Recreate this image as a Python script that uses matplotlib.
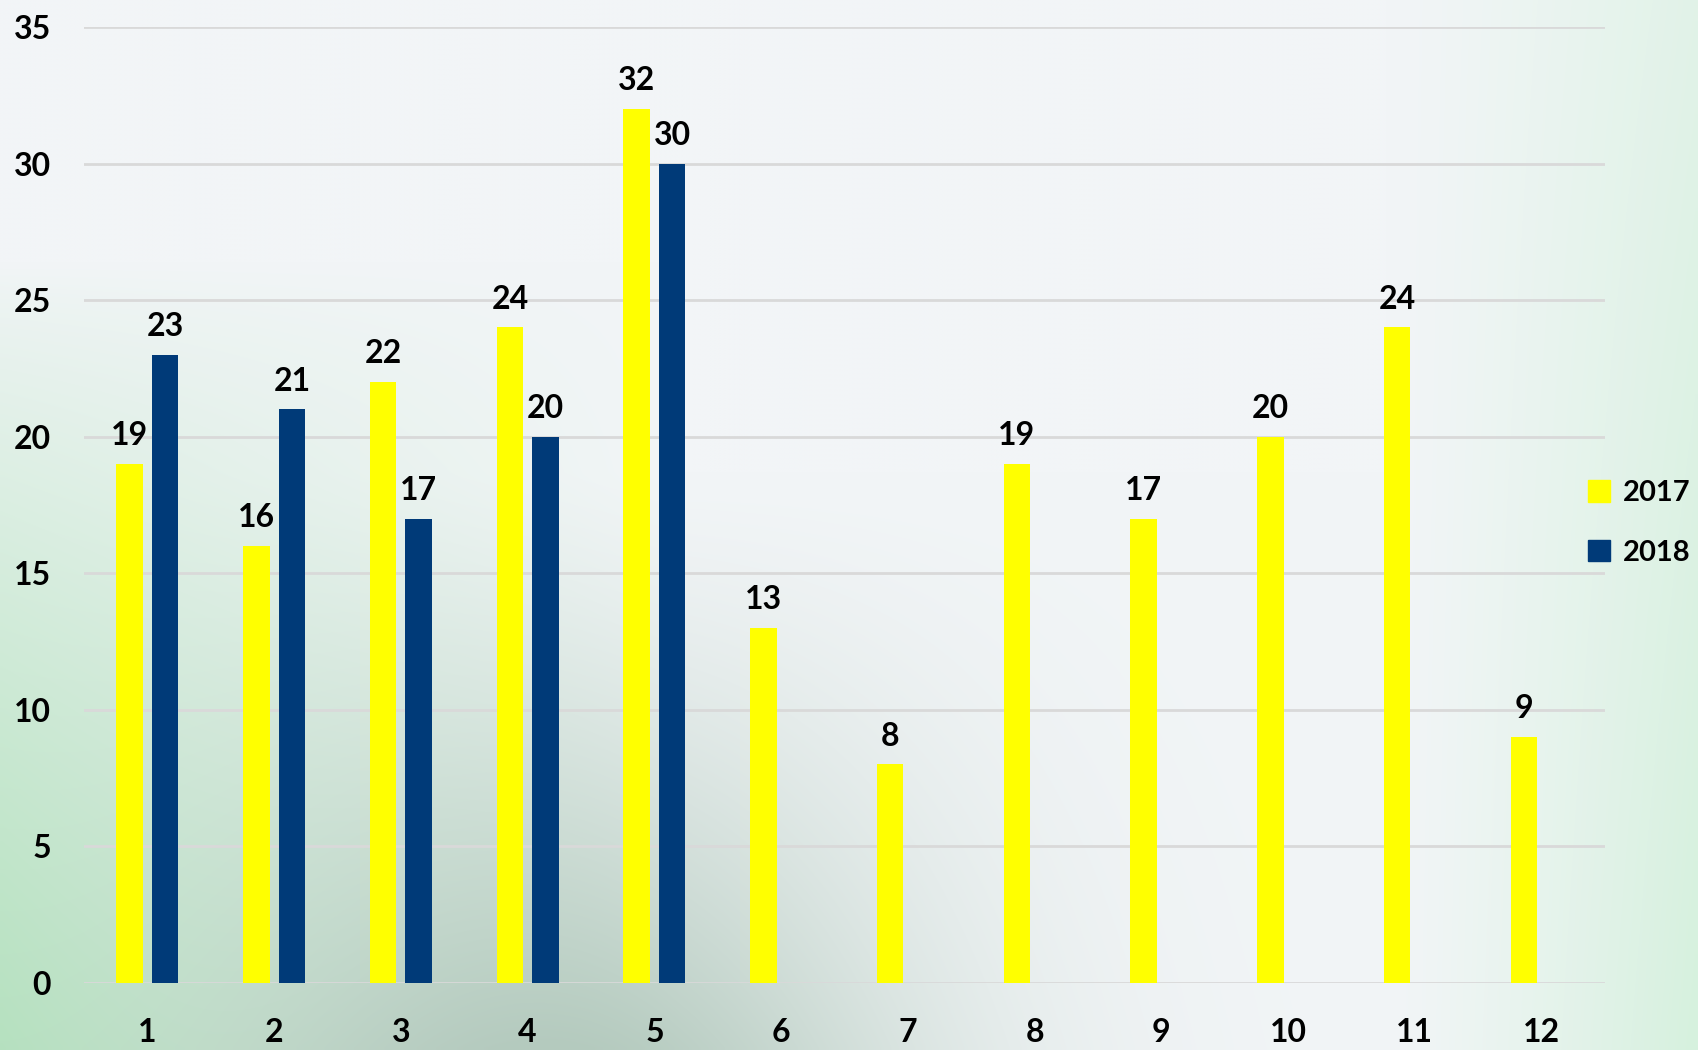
import matplotlib.pyplot as plt
import matplotlib.patches as mpatches
import numpy as np

# data
months = ['1', '2', '3', '4', '5', '6', '7', '8', '9', '10', '11', '12']
v2017 = [19, 16, 22, 24, 32, 13, 8, 19, 17, 20, 24, 9]
v2018 = [23, 21, 17, 20, 30, np.nan, np.nan, np.nan, np.nan, np.nan, np.nan, np.nan]

yellow = '#FFFF00'
blue = '#003A78'
plt.rcParams['font.family'] = ['Lato', 'DejaVu Sans']
plt.rcParams['font.weight'] = 'bold'

fig = plt.figure(figsize=(16.98, 10.5), dpi=100)

# background gradient
bg = fig.add_axes([0, 0, 1, 1], zorder=-10)
H, W = 210, 340
u = np.linspace(0, 1, W)[None, :] * np.ones((H, 1))
v = np.linspace(0, 1, H)[:, None] * np.ones((1, W))
img = np.ones((H, W, 3)) * np.array([242, 245, 247]) / 255.
def blend(img, col, w):
    w = np.clip(w, 0, 1)[..., None]
    return img * (1 - w) + np.array(col) / 255. * w
w1 = np.clip((0.4 - u) / 0.4, 0, 1) * np.clip((v - 0.25) / 0.75, 0, 1) ** 0.8
img = blend(img, (182, 228, 192), w1)
w2 = np.exp(-((u - 0.32) / 0.22) ** 2) * np.clip((v - 0.45) / 0.55, 0, 1) ** 1.3
img = blend(img, (180, 202, 190), w2)
w3 = np.clip((u - 0.82) / 0.18, 0, 1) ** 1.2 * (0.6 + 0.4 * v)
img = blend(img, (214, 241, 222), w3)
bg.imshow(img, aspect='auto', extent=[0, 1, 0, 1], interpolation='bilinear')
bg.axis('off')

ax = fig.add_axes([0.0495, 0.0638, 0.8957, 0.9105])
ax.patch.set_alpha(0)
x = np.arange(len(months))
bw = 0.21
b1 = ax.bar(x - 0.14, v2017, bw, color=yellow, zorder=3)
b2 = ax.bar(x + 0.14, v2018, bw, color=blue, zorder=3)

for bars, vals in ((b1, v2017), (b2, v2018)):
    for r, val in zip(bars, vals):
        if np.isnan(val):
            continue
        ax.annotate(str(int(val)), (r.get_x() + r.get_width() / 2, val),
                    xytext=(0, 10), textcoords='offset points',
                    ha='center', va='bottom', fontsize=23, fontweight='bold')

ax.set_xlim(-0.5, 11.5)
ax.set_ylim(0, 35)
ax.set_yticks(np.arange(0, 36, 5))
ax.set_xticks(x)
ax.set_xticklabels(months)
ax.tick_params(length=0, labelsize=23, pad=25)
ax.tick_params(axis='y', pad=24)
for t in ax.get_xticklabels() + ax.get_yticklabels():
    t.set_fontweight('bold')
ax.grid(True, axis='y', color='#d9d9d9', linewidth=2, zorder=0)
for s in ax.spines.values():
    s.set_visible(False)

handles = [mpatches.Patch(color=yellow, label='2017'),
           mpatches.Patch(color=blue, label='2018')]
leg = ax.legend(handles=handles, loc='center left', bbox_to_anchor=(0.935, 0.502),
                bbox_transform=fig.transFigure, frameon=False, fontsize=21,
                handlelength=0.75, handleheight=0.75, handletextpad=0.45,
                labelspacing=1.15, borderaxespad=0, borderpad=0)
for t in leg.get_texts():
    t.set_fontweight('bold')

plt.savefig('out.png', dpi=100)
